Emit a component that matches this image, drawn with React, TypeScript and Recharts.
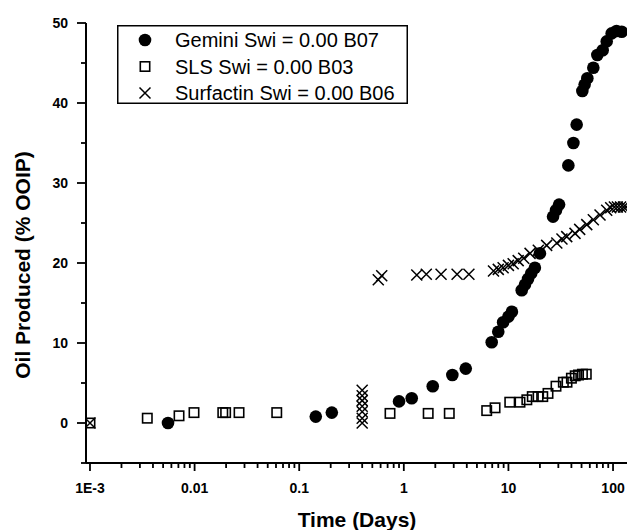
import React from 'react';
import { ScatterChart, Scatter, XAxis, YAxis, Legend, Label } from 'recharts';

// Oil recovery vs. time, three surfactant floods (Swi = 0.00)
const geminiDays = [0.00557, 0.144, 0.205, 0.9, 1.19, 1.89, 2.91, 3.91, 6.92, 8.0, 8.9, 10.0, 10.8, 13.4, 14.4, 15.4, 16.5, 17.9, 20.0, 26.7, 28.5, 30.5, 37.4, 41.8, 44.9, 50.9, 53.5, 56.8, 64.8, 70.8, 79.6, 87.0, 97, 108, 121];
const geminiOil = [0, 0.8, 1.3, 2.7, 3.1, 4.6, 6.0, 6.8, 10.1, 11.4, 12.6, 13.3, 13.9, 16.6, 17.3, 18.0, 18.7, 19.4, 21.2, 25.8, 26.6, 27.3, 32.2, 35.0, 37.3, 41.5, 42.3, 43.1, 44.4, 46.0, 46.6, 47.7, 48.7, 49.0, 48.9];

const slsDays = [0.001, 0.00353, 0.0071, 0.00987, 0.0186, 0.0198, 0.0266, 0.061, 0.738, 1.71, 2.72, 6.2, 7.45, 10.3, 12.9, 15.0, 16.9, 19.2, 21.3, 23.9, 28.5, 33.5, 36.3, 40.0, 43.5, 46.8, 51, 55.5];
const slsOil = [0, 0.6, 0.9, 1.3, 1.3, 1.3, 1.3, 1.3, 1.2, 1.2, 1.2, 1.55, 1.9, 2.6, 2.6, 2.9, 3.3, 3.3, 3.3, 3.7, 4.6, 5.1, 5.1, 5.6, 5.9, 6.0, 6.1, 6.1];

const surfactinDays = [0.001, 0.4, 0.4, 0.4, 0.4, 0.4, 0.4, 0.4, 0.57, 0.615, 1.33, 1.64, 2.27, 3.23, 4.19, 7.2, 8.0, 8.9, 10.0, 11.1, 12.4, 14.0, 16.1, 19.3, 23.2, 29.0, 32.5, 36.1, 43.3, 48.0, 56.1, 64.8, 75.1, 87, 95, 103, 110, 118, 126, 133];
const surfactinOil = [0, 0, 0.6, 1.4, 2.1, 2.8, 3.4, 4.1, 17.9, 18.4, 18.5, 18.6, 18.6, 18.6, 18.6, 19.0, 19.2, 19.4, 19.7, 19.9, 20.3, 20.6, 21.2, 21.6, 22.2, 22.5, 23.0, 23.3, 23.7, 24.2, 24.8, 25.4, 26.0, 26.6, 26.9, 27.0, 27.0, 27.0, 27.0, 27.0];

const xMajorTicks = [0.001, 0.01, 0.1, 1, 10, 100];
const xTickLabels = ['1E-3', '0.01', '0.1', '1', '10', '100'];
const yMajorTicks = [0, 10, 20, 30, 40, 50];
const yMinorTicks = [-5, 5, 15, 25, 35, 45];

const legendNames = ['Gemini Swi = 0.00 B07', 'SLS Swi = 0.00 B03', 'Surfactin Swi = 0.00 B06'];

const FONT = "'Liberation Sans', Arial, sans-serif";

const xMinorTicks: number[] = [];
xMajorTicks.forEach((d) => {
  for (let m = 2; m <= 9; m++) {
    if (d * m <= 136) xMinorTicks.push(d * m);
  }
});

const toRows = (xs: number[], ys: number[]) => xs.map((x, i) => ({ x, y: ys[i] }));
const geminiData = toRows(geminiDays, geminiOil);
const slsData = toRows(slsDays, slsOil);
const surfactinData = toRows(surfactinDays, surfactinOil);

const Dot = (p: any) => <circle cx={p.cx} cy={p.cy} r={6.3} fill="#000" />;
const Box = (p: any) => (
  <rect x={p.cx - 4.7} y={p.cy - 4.7} width={9.4} height={9.4} fill="none" stroke="#000" strokeWidth={1.6} />
);
const Cross = (p: any) => (
  <path
    d={`M${p.cx - 5.5},${p.cy - 5.5}L${p.cx + 5.5},${p.cy + 5.5}M${p.cx + 5.5},${p.cy - 5.5}L${p.cx - 5.5},${p.cy + 5.5}`}
    stroke="#000"
    strokeWidth={1.5}
    fill="none"
  />
);

// x ticks: long for decades (with label), short for 2..9
const XTick = ({ x, y, payload }: any) => {
  const i = xMajorTicks.indexOf(payload.value);
  const major = i >= 0;
  return (
    <g>
      <line x1={x} x2={x} y1={y} y2={y + (major ? 8 : 5)} stroke="#000" strokeWidth={1.8} />
      {major && (
        <text x={x} y={y + 30} textAnchor="middle" fontSize={14} fontWeight="bold" fontFamily={FONT} fill="#000">
          {xTickLabels[i]}
        </text>
      )}
    </g>
  );
};

const YTick = ({ x, y, payload }: any) => {
  const major = yMajorTicks.includes(payload.value);
  return (
    <g>
      <line x1={x} x2={x - (major ? 9 : 5)} y1={y} y2={y} stroke="#000" strokeWidth={1.8} />
      {major && (
        <text x={x - 18} y={y + 5} textAnchor="end" fontSize={14} fontWeight="bold" fontFamily={FONT} fill="#000">
          {payload.value}
        </text>
      )}
    </g>
  );
};

const legendShapes = [
  (cx: number, cy: number) => <circle cx={cx} cy={cy} r={6.3} fill="#000" />,
  (cx: number, cy: number) => (
    <rect x={cx - 4.7} y={cy - 4.7} width={9.4} height={9.4} fill="none" stroke="#000" strokeWidth={1.6} />
  ),
  (cx: number, cy: number) => (
    <path
      d={`M${cx - 5.5},${cy - 5.5}L${cx + 5.5},${cy + 5.5}M${cx + 5.5},${cy - 5.5}L${cx - 5.5},${cy + 5.5}`}
      stroke="#000"
      strokeWidth={1.5}
    />
  ),
];

const renderLegend = () => (
  <svg width={291} height={79} style={{ display: 'block' }}>
    <rect x={0.75} y={0.75} width={289.5} height={77.5} fill="#fff" stroke="#000" strokeWidth={1.5} />
    {legendNames.map((name, i) => {
      const cy = 15 + i * 26.5;
      return (
        <g key={name}>
          {legendShapes[i](28, cy)}
          <text x={58} y={cy + 7} fontSize={20} fontFamily={FONT} fill="#000">
            {name}
          </text>
        </g>
      );
    })}
  </svg>
);

export default function App() {
  return (
    <div style={{ width: 627, height: 530, background: '#fff' }}>
      <style>{'body{margin:0}'}</style>
      <ScatterChart width={627} height={530} margin={{ top: 23, right: 0, bottom: 0, left: 0 }}>
        <XAxis
          type="number"
          dataKey="x"
          scale="log"
          domain={[0.000916, 136]}
          allowDataOverflow
          ticks={[...xMajorTicks, ...xMinorTicks]}
          interval={0}
          height={67}
          tickSize={0}
          tickMargin={0}
          tick={<XTick />}
          axisLine={{ stroke: '#000', strokeWidth: 2 }}
        >
          <Label
            content={() => (
              <text x={357} y={527} textAnchor="middle" fontSize={21} fontWeight="bold" fontFamily={FONT} fill="#000">
                Time (Days)
              </text>
            )}
          />
        </XAxis>
        <YAxis
          type="number"
          dataKey="y"
          domain={[-5, 50]}
          allowDataOverflow
          ticks={[...yMinorTicks, ...yMajorTicks]}
          interval={0}
          width={86}
          tickSize={0}
          tickMargin={0}
          tick={<YTick />}
          axisLine={{ stroke: '#000', strokeWidth: 2 }}
        >
          <Label
            content={() => (
              <text
                transform="translate(30,265) rotate(-90)"
                textAnchor="middle"
                fontSize={21}
                fontWeight="bold"
                fontFamily={FONT}
                fill="#000"
              >
                Oil Produced (% OOIP)
              </text>
            )}
          />
        </YAxis>
        <Legend
          layout="vertical"
          align="center"
          verticalAlign="middle"
          content={renderLegend}
          wrapperStyle={{ left: 117, top: 25, width: 291, height: 79 }}
        />
        <Scatter name="Gemini" data={geminiData} shape={Dot} isAnimationActive={false} />
        <Scatter name="SLS" data={slsData} shape={Box} isAnimationActive={false} />
        <Scatter name="Surfactin" data={surfactinData} shape={Cross} isAnimationActive={false} />
      </ScatterChart>
    </div>
  );
}
